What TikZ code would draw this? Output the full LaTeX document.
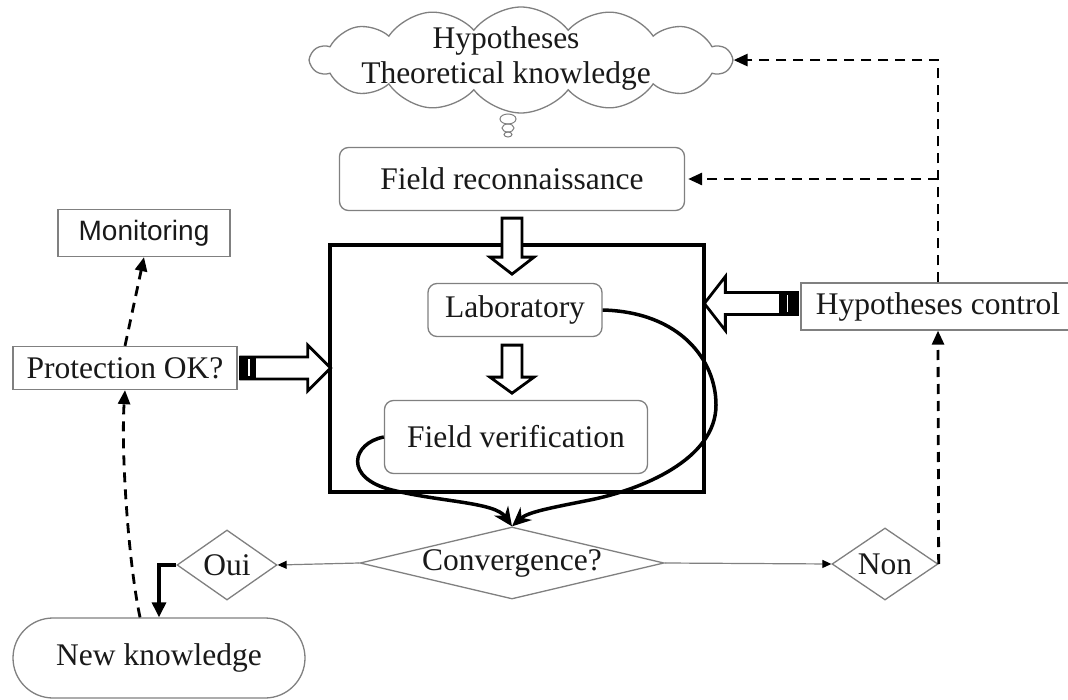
\documentclass[tikz,border=0pt]{standalone}
\usepackage{fontspec}
\setmainfont{Liberation Serif}
\setsansfont{Liberation Sans}
\usetikzlibrary{shapes.geometric,shapes.misc,shapes.symbols,arrows.meta,calc}
\newcommand\blockarrow[6]{% #1 tail, #2 angle, #3 length, #4 shaft half, #5 head half, #6 head length
  \begin{scope}[shift={#1}, rotate=#2]
    \draw[blockstyle] (0,-#4) -- ({#3-#6},-#4) -- ({#3-#6},-#5) -- (#3,0) -- ({#3-#6},#5) -- ({#3-#6},#4) -- (0,#4) -- cycle;
  \end{scope}}
\newcommand\barblockarrow[7]{% same + #7 bar length
  \blockarrow{#1}{#2}{#3}{#4}{#5}{#6}
  \begin{scope}[shift={#1}, rotate=#2]
    \fill[black] (-1.2,{-#4-1.4}) rectangle (#7,{#4+1.4});
    \draw[white, line width=1.8pt] ({0.55*#7},{-#4+2.5}) -- ({0.55*#7},{#4-2.5});
  \end{scope}}
\begin{document}
\begin{tikzpicture}[x=1pt,y=-1pt,
  txt/.style={font=\fontsize{31.5}{35}\selectfont, text=black!90},
  gbox/.style={draw=black!50, line width=1.3pt, txt, inner sep=0pt},
  rbox/.style={gbox, rectangle, rounded corners=9pt},
  sbox/.style={gbox, rectangle},
  dia/.style={gbox, diamond},
  dasharrow/.style={line width=2.8pt, dash pattern=on 10pt off 7pt, -{Triangle[length=14pt,width=12pt]}},
  thinarrow/.style={draw=black!50, line width=1.2pt, -{Triangle[length=9pt,width=8pt,color=black]}},
  curvearrow/.style={line width=3.5pt, -{Stealth[length=19pt,width=17pt]}},
  blockstyle/.style={draw=black, line width=2.8pt, fill=white, line join=miter},
]
\clip (0,0) rectangle (1068,700);
\fill[white] (0,0) rectangle (1068,700);

% cloud
\node[cloud, cloud puffs=14, cloud puff arc=105, aspect=4.1, draw=black!50, line width=1.3pt,
      minimum width=420pt, minimum height=106pt, inner sep=0pt] (cloud) at (521,60) {};
\node[txt, align=center, inner sep=0pt] (cloudtext) at (506,58) {Hypotheses\\Theoretical knowledge};
\draw[black!50, line width=1pt] (508,119) ellipse (8 and 5);
\draw[black!50, line width=1pt] (508,128) ellipse (6 and 4);
\draw[black!50, line width=1pt] (508,134.5) ellipse (4 and 2.5);

% nodes
\node[rbox, minimum width=345pt, minimum height=63pt] (fr) at (512,179) {Field reconnaissance};
\node[draw, line width=3.2pt, minimum width=374pt, minimum height=247pt, inner sep=0pt] (bigbox) at (517,368.5) {};
\node[rbox, minimum width=174pt, minimum height=53pt] (lab) at (515,310) {Laboratory};
\node[rbox, minimum width=263pt, minimum height=73pt] (fv) at (516,437) {Field verification};
\node[dia, aspect=4.2, minimum width=304pt, minimum height=72pt] (conv) at (512,563) {Convergence?};
\node[dia, aspect=1.43, minimum width=100pt, minimum height=70pt] (oui) at (227,565) {Oui};
\node[dia, aspect=1.47, minimum width=106pt, minimum height=72pt] (non) at (885,564) {Non};
\node[gbox, rounded rectangle, minimum width=292pt, minimum height=80pt] (nk) at (159,658) {New knowledge};
\node[sbox, minimum width=224pt, minimum height=43pt] (prot) at (125,368) {Protection OK?};
\node[sbox, minimum width=172pt, minimum height=47pt, font=\sffamily\fontsize{28}{32}\selectfont] (mon) at (144,233) {Monitoring};
\node[sbox, minimum width=274pt, minimum height=47pt] (hc) at (938,306.5) {Hypotheses control};

% thin arrows from convergence
\draw[thinarrow] (conv.west) -- (oui.east);
\draw[thinarrow] (conv.east) -- (non.west);

% Oui -> new knowledge
\draw[line width=3.2pt, -{Triangle[length=15pt,width=14pt]}] (oui.west) -| (nk.north);

% dashed connectors
\draw[dasharrow] ($(nk.north)+(-19,0)$) .. controls (128,560) and (121,450) .. (prot.south);
\draw[dasharrow] (prot.north) -- (mon.south);
\draw[dasharrow] (non.east) -- (hc.south);
\coordinate (tr) at (hc.north |- cloud.east);
\draw[dasharrow] (hc.north) -- (tr) -- (cloud.east);
\draw[dasharrow, shorten >=3pt] (hc.north |- fr.east) -- (fr.east);

% curved arrows
\draw[curvearrow] (lab.east) .. controls (680,312) and (716,360) .. (716,405)
   .. controls (716,460) and (640,490) .. (590,500)
   .. controls (550,508) and (528,512) .. (conv.north);
\draw[curvearrow] (fv.west) .. controls (352,443) and (343,478) .. (392,490)
   .. controls (440,502) and (495,502) .. (conv.north);

% block arrows
\blockarrow{($(fr.south)+(0,7)$)}{-90}{56}{10}{22}{17}
\blockarrow{($(lab.south)+(-3,8)$)}{-90}{48}{10}{22}{16}
\barblockarrow{($(prot.east)+(3,0)$)}{0}{90}{11}{23}{23}{15}
\barblockarrow{($(hc.west)+(-3,-3)$)}{180}{93}{11}{27}{21}{18}
\end{tikzpicture}
\end{document}
